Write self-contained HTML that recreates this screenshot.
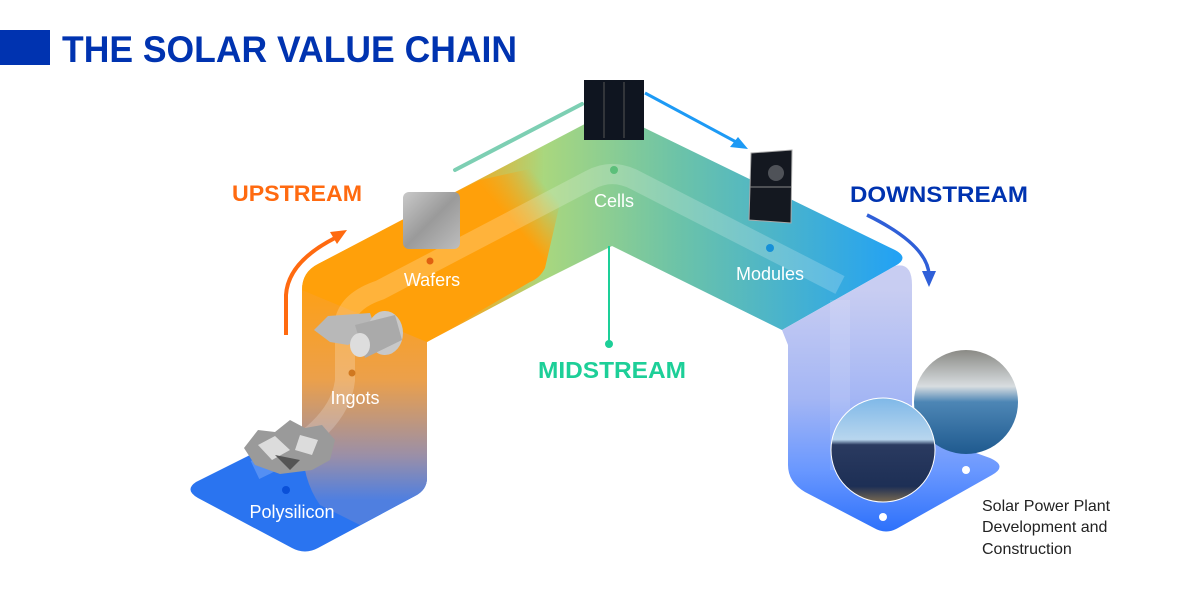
<!DOCTYPE html>
<html><head><meta charset="utf-8"><style>
html,body{margin:0;padding:0;background:#fff;width:1200px;height:600px;overflow:hidden}
svg{display:block}
text{font-family:"Liberation Sans",sans-serif}
</style></head><body>
<svg width="1200" height="600" viewBox="0 0 1200 600" xmlns="http://www.w3.org/2000/svg">
<defs>
<linearGradient id="band" x1="300" y1="0" x2="910" y2="0" gradientUnits="userSpaceOnUse">
<stop offset="0" stop-color="#ff9f0a"/><stop offset="0.25" stop-color="#ffa010"/>
<stop offset="0.40" stop-color="#a9d77e"/><stop offset="0.62" stop-color="#6cc3a8"/>
<stop offset="1" stop-color="#1fa0f8"/></linearGradient>
<linearGradient id="orov" x1="470" y1="250" x2="545" y2="185" gradientUnits="userSpaceOnUse">
<stop offset="0" stop-color="#ffa00a" stop-opacity="1"/><stop offset="0.5" stop-color="#ffa00a" stop-opacity="1"/><stop offset="1" stop-color="#ffa00a" stop-opacity="0"/></linearGradient>
<linearGradient id="col" x1="0" y1="280" x2="0" y2="500" gradientUnits="userSpaceOnUse">
<stop offset="0" stop-color="#ffa012"/><stop offset="0.45" stop-color="#eca04a"/>
<stop offset="0.8" stop-color="#9a8fa8"/><stop offset="1" stop-color="#4f7fe0"/></linearGradient>
<linearGradient id="dcol" x1="0" y1="290" x2="0" y2="530" gradientUnits="userSpaceOnUse">
<stop offset="0" stop-color="#c8cdf2"/><stop offset="0.45" stop-color="#a4b6f4"/><stop offset="0.75" stop-color="#6a98ff"/><stop offset="1" stop-color="#2f72fb"/></linearGradient>
<linearGradient id="ph1" x1="0" y1="0" x2="0" y2="1"><stop offset="0" stop-color="#7fb8e8"/><stop offset="0.4" stop-color="#b8d6ee"/><stop offset="0.45" stop-color="#2a3a60"/><stop offset="0.85" stop-color="#1d2f55"/><stop offset="1" stop-color="#7a6a50"/></linearGradient>
<linearGradient id="ph2" x1="0" y1="0" x2="0" y2="1"><stop offset="0" stop-color="#8a8a85"/><stop offset="0.35" stop-color="#d8dde0"/><stop offset="0.5" stop-color="#4d86b5"/><stop offset="1" stop-color="#1f5a8f"/></linearGradient>
<linearGradient id="metal" x1="0" y1="0" x2="1" y2="1"><stop offset="0" stop-color="#c9c9c9"/><stop offset="0.5" stop-color="#9a9a9a"/><stop offset="1" stop-color="#bdbdbd"/></linearGradient>
</defs>

<rect x="0" y="30" width="50" height="35" fill="#0033b0"/>
<text x="62" y="62" font-size="37" font-weight="bold" fill="#0033b0" textLength="455" lengthAdjust="spacingAndGlyphs">THE SOLAR VALUE CHAIN</text>

<path d="M196,482 L300,430 L427,430 L427,478 Q427,490 415,496 L318,548 Q305,555 292,548 L198,498 Q184,490 196,482 Z" fill="#2a74f0"/>
<path d="M302,290 Q302,272 318,264 L427,330 L427,478 Q427,490 415,496 L360,525 L320,505 Q302,480 302,440 Z" fill="url(#col)"/>
<path d="M318,264 L600,116 Q610,110 620,116 L895,250 Q910,258 895,266 L782,330 L612,246 L540,282 L427,342 L302,290 Z" fill="url(#band)"/>
<path d="M318,264 L480,180 L570,160 L545,268 Q540,278 530,282 L427,342 L302,290 Q302,272 318,264 Z" fill="url(#orov)"/>
<path d="M782,330 L895,266 Q912,262 912,285 L912,430 L990,458 Q1008,466 992,475 L898,528 Q886,535 874,528 L805,492 Q788,482 788,465 L788,345 Z" fill="url(#dcol)"/>

<path d="M255,470 Q340,430 345,380 L345,320 Q350,300 380,290 L590,180 Q612,168 635,180 L840,285" fill="none" stroke="#fff" stroke-opacity="0.2" stroke-width="20"/>
<path d="M840,300 L840,470" fill="none" stroke="#fff" stroke-opacity="0.12" stroke-width="20"/>

<line x1="609" y1="246" x2="609" y2="342" stroke="#1dcf98" stroke-width="2"/>
<circle cx="609" cy="344" r="4" fill="#1dcf98"/>
<text x="612" y="378" font-size="23" font-weight="bold" fill="#1dcf98" text-anchor="middle" textLength="148" lengthAdjust="spacingAndGlyphs">MIDSTREAM</text>

<path d="M286,335 L286,295 Q288,262 335,238" fill="none" stroke="#ff6a10" stroke-width="4"/>
<path d="M347,230 L330,232 L337,244 Z" fill="#ff6a10"/>
<line x1="455" y1="170" x2="582" y2="104" stroke="#7dcfb3" stroke-width="4" stroke-linecap="round"/>
<line x1="645" y1="93" x2="738" y2="143" stroke="#1d9af5" stroke-width="3"/>
<path d="M748,149 L730,147 L738,137 Z" fill="#1d9af5"/>
<path d="M867,215 Q928,245 929,275" fill="none" stroke="#2f5fd8" stroke-width="3.5"/>
<path d="M929,287 L922,271 L936,271 Z" fill="#2f5fd8"/>

<text x="232" y="201" font-size="22" font-weight="bold" fill="#ff6a10" textLength="130" lengthAdjust="spacingAndGlyphs">UPSTREAM</text>
<text x="850" y="202" font-size="22" font-weight="bold" fill="#0033b0" textLength="178" lengthAdjust="spacingAndGlyphs">DOWNSTREAM</text>

<rect x="403" y="192" width="57" height="57" rx="6" fill="url(#metal)"/>
<rect x="584" y="80" width="60" height="60" fill="#0f1520"/>
<line x1="604" y1="82" x2="604" y2="138" stroke="#555" stroke-width="1"/>
<line x1="624" y1="82" x2="624" y2="138" stroke="#555" stroke-width="1"/>
<polygon points="751,153 792,150 791,223 749,220" fill="#141820" stroke="#aaa" stroke-width="1"/>
<line x1="750" y1="187" x2="791" y2="187" stroke="#888"/>
<circle cx="776" cy="173" r="8" fill="#fff" opacity="0.25"/>
<g>
<path d="M314,330 L328,316 L370,313 L376,330 L348,345 L330,342 Z" fill="#b8b8b8"/>
<ellipse cx="385" cy="333" rx="18" ry="22" fill="#c8c8c8"/>
<path d="M355,325 L395,315 L402,340 L365,358 Z" fill="#aaa"/>
<ellipse cx="360" cy="345" rx="10" ry="12" fill="#ddd"/>
</g>
<path d="M244,448 L258,430 L275,432 L290,420 L305,428 L322,425 L335,440 L330,460 L312,470 L280,474 L255,465 Z" fill="#9a9a9a"/>
<path d="M258,445 L275,436 L290,450 L272,460 Z M300,435 L318,440 L312,455 L295,450 Z" fill="#dcdcdc"/>
<path d="M275,455 L300,460 L290,470 Z" fill="#555"/>
<circle cx="966" cy="402" r="52" fill="url(#ph2)"/>
<circle cx="883" cy="450" r="52" fill="url(#ph1)" stroke="#fff" stroke-width="1"/>

<circle cx="286" cy="490" r="4" fill="#0a50d8"/>
<circle cx="352" cy="373" r="3.5" fill="#d07820"/>
<circle cx="430" cy="261" r="3.5" fill="#e06010"/>
<circle cx="614" cy="170" r="4" fill="#5cbf7a"/>
<circle cx="770" cy="248" r="4" fill="#1690d8"/>
<circle cx="966" cy="470" r="4" fill="#fff"/>
<circle cx="883" cy="517" r="4" fill="#fff"/>

<g fill="#fff" font-size="18" text-anchor="middle">
<text x="432" y="286">Wafers</text>
<text x="614" y="207">Cells</text>
<text x="770" y="280">Modules</text>
<text x="355" y="404">Ingots</text>
<text x="292" y="518">Polysilicon</text>
</g>
<g fill="#222" font-size="16">
<text x="982" y="511">Solar Power Plant</text>
<text x="982" y="532">Development and</text>
<text x="982" y="554">Construction</text>
</g>
</svg>
</body></html>
